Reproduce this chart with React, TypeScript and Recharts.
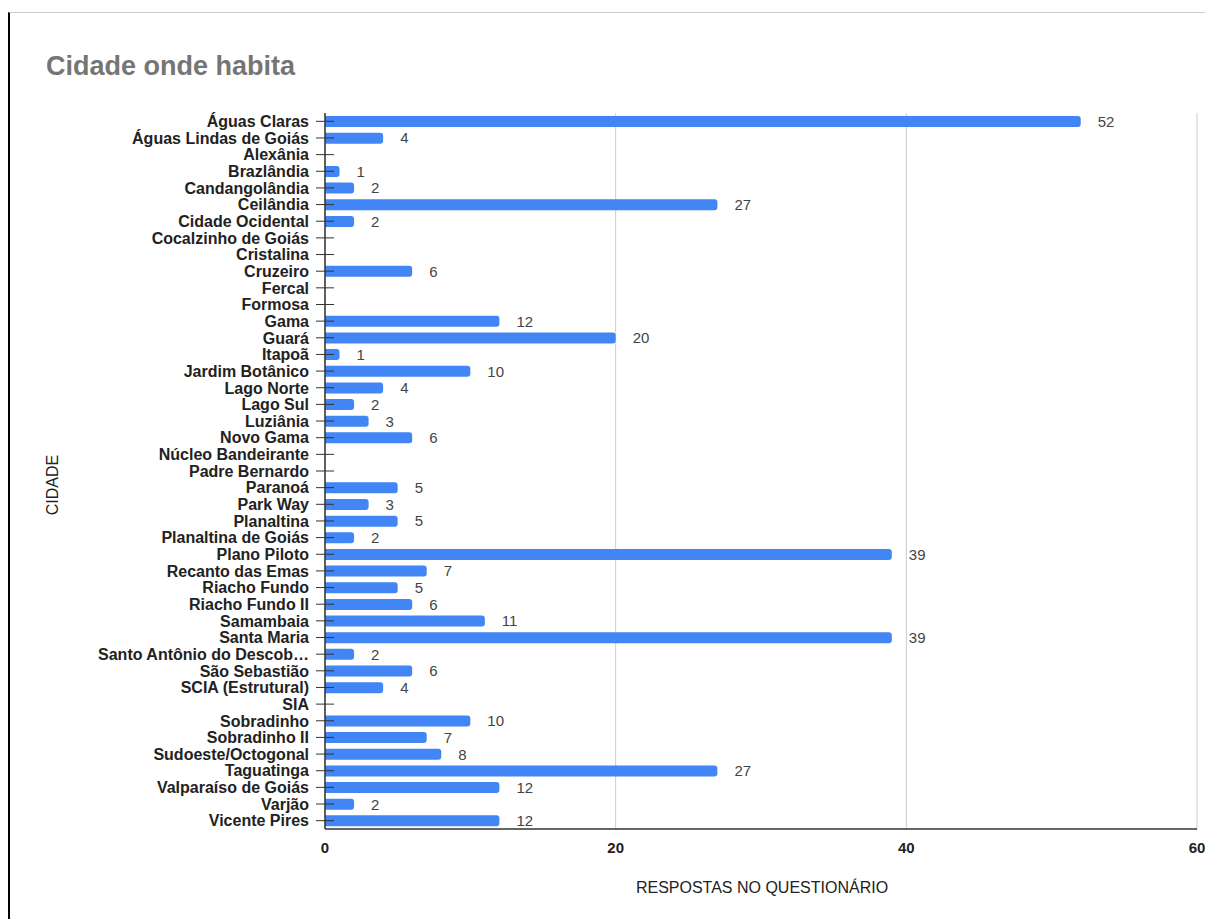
import React from 'react';
import { BarChart, Bar, XAxis, YAxis, CartesianGrid, LabelList } from 'recharts';

const cities: string[] = [
  'Águas Claras', 'Águas Lindas de Goiás', 'Alexânia', 'Brazlândia', 'Candangolândia', 'Ceilândia',
  'Cidade Ocidental', 'Cocalzinho de Goiás', 'Cristalina', 'Cruzeiro', 'Fercal', 'Formosa', 'Gama',
  'Guará', 'Itapoã', 'Jardim Botânico', 'Lago Norte', 'Lago Sul', 'Luziânia', 'Novo Gama',
  'Núcleo Bandeirante', 'Padre Bernardo', 'Paranoá', 'Park Way', 'Planaltina', 'Planaltina de Goiás',
  'Plano Piloto', 'Recanto das Emas', 'Riacho Fundo', 'Riacho Fundo II', 'Samambaia', 'Santa Maria',
  'Santo Antônio do Descob…', 'São Sebastião', 'SCIA (Estrutural)', 'SIA', 'Sobradinho', 'Sobradinho II',
  'Sudoeste/Octogonal', 'Taguatinga', 'Valparaíso de Goiás', 'Varjão', 'Vicente Pires',
];

const responses: number[] = [
  52, 4, 0, 1, 2, 27,
  2, 0, 0, 6, 0, 0, 12,
  20, 1, 10, 4, 2, 3, 6,
  0, 0, 5, 3, 5, 2,
  39, 7, 5, 6, 11, 39,
  2, 6, 4, 0, 10, 7,
  8, 27, 12, 2, 12,
];

const xTicks: number[] = [0, 20, 40, 60];

const title = 'Cidade onde habita';
const xTitle = 'RESPOSTAS NO QUESTIONÁRIO';
const yTitle = 'CIDADE';

const data = cities.map((name, i) => ({ name, value: responses[i] }));

const FONT = '"Liberation Sans", Arial, sans-serif';

const YTick = (props: any) => {
  const { x, y, payload } = props;
  return (
    <g>
      <line x1={x + 7} x2={x + 25} y1={y} y2={y} stroke="#333" strokeWidth={1} />
      <text x={x} y={y} dy="0.36em" textAnchor="end" fontFamily={FONT} fontSize={16} fontWeight="bold" fill="#222">
        {payload.value}
      </text>
    </g>
  );
};

export default function App() {
  return (
    <div style={{ position: 'relative', width: 1205, height: 911 }}>
      <div
        style={{
          position: 'absolute', left: 0, top: 4, width: 1205, height: 907,
          borderTop: '1px solid #ccc', borderLeft: '2px solid #000', boxSizing: 'border-box',
        }}
      />
      <div
        style={{
          position: 'absolute', left: 38, top: 44.7, fontFamily: FONT, fontSize: 27,
          lineHeight: '27px', fontWeight: 'bold', color: '#757575', whiteSpace: 'nowrap',
        }}
      >
        {title}
      </div>
      <div style={{ position: 'absolute', left: 2, top: 5 }}>
        <BarChart
          width={1203}
          height={906}
          data={data}
          layout="vertical"
          margin={{ top: 100, right: 16, bottom: 20, left: 0 }}
        >
          <CartesianGrid horizontal={false} stroke="#cccccc" />
          <XAxis
            type="number"
            domain={[0, 60]}
            ticks={xTicks}
            height={70}
            tickLine={false}
            tickSize={0}
            tickMargin={13}
            axisLine={{ stroke: '#333', strokeWidth: 1.5 }}
            tick={{ fontFamily: FONT, fontSize: 15, fontWeight: 'bold', fill: '#222' }}
            label={{
              content: () => (
                <text x={752} y={880} textAnchor="middle" fontFamily={FONT} fontSize={16} fill="#222">
                  {xTitle}
                </text>
              ),
            }}
          />
          <Bar dataKey="value" fill="#4285F4" barSize={11} radius={[0, 3, 3, 0]} isAnimationActive={false}>
            <LabelList
              dataKey="value"
              position="right"
              offset={17}
              formatter={(v: any) => (v === 0 ? '' : v)}
              style={{ fontFamily: FONT, fontSize: 15, fill: '#444' }}
            />
          </Bar>
          <YAxis
            type="category"
            dataKey="name"
            width={315}
            interval={0}
            tickLine={false}
            tickSize={0}
            tickMargin={16}
            axisLine={{ stroke: '#333', strokeWidth: 1.5 }}
            tick={<YTick />}
            label={{
              content: () => (
                <text
                  x={42}
                  y={472}
                  textAnchor="middle"
                  dy="0.36em"
                  transform="rotate(-90 42 472)"
                  fontFamily={FONT}
                  fontSize={16}
                  fill="#222"
                >
                  {yTitle}
                </text>
              ),
            }}
          />
        </BarChart>
      </div>
    </div>
  );
}
